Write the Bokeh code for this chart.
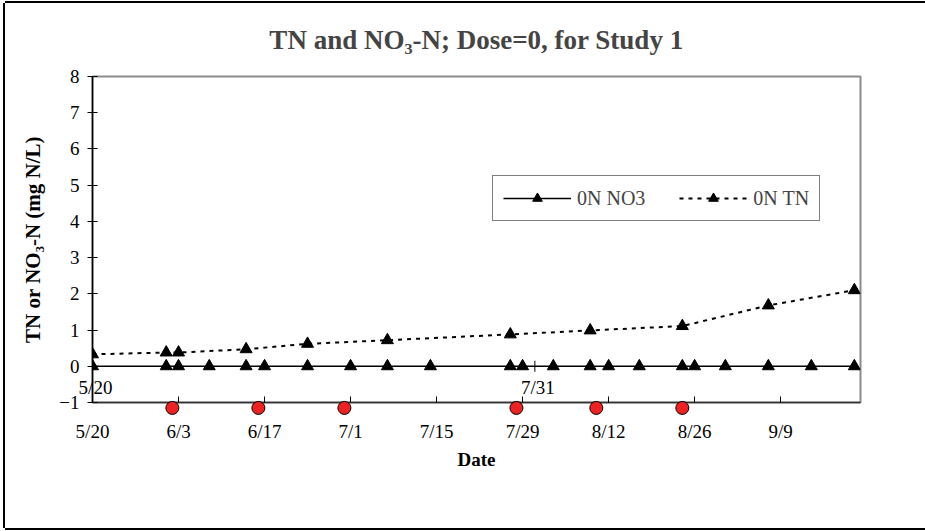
from datetime import datetime
import math
from bokeh.plotting import figure
from bokeh.models import FixedTicker, Legend, LegendItem, Range1d
from bokeh.core.properties import value
from bokeh.embed import file_html
from bokeh.resources import INLINE

YEAR = 2001

# ---- data ----
title_text = "TN and NO\u2083-N; Dose=0, for Study 1"
x_start = "5/20"
x_end = "9/22"
x_tick_labels = ["5/20", "6/3", "6/17", "7/1", "7/15", "7/29", "8/12", "8/26", "9/9"]
sec_tick_labels = ["5/20", "7/31"]
y_ticks = [-1, 0, 1, 2, 3, 4, 5, 6, 7, 8]

no3_dates = ["5/20", "6/1", "6/3", "6/8", "6/14", "6/17", "6/24", "7/1", "7/7", "7/14",
             "7/27", "7/29", "8/3", "8/9", "8/12", "8/17", "8/24", "8/26", "8/31", "9/7",
             "9/14", "9/21"]
no3_values = [0, 0, 0, 0, 0, 0, 0, 0, 0, 0, 0, 0, 0, 0, 0, 0, 0, 0, 0, 0, 0, 0]

tn_dates = ["5/20", "6/1", "6/3", "6/14", "6/24", "7/7", "7/27", "8/9", "8/24", "9/7", "9/21"]
tn_values = [0.33, 0.38, 0.38, 0.47, 0.62, 0.72, 0.88, 0.99, 1.11, 1.68, 2.10]

dose_dates = ["6/2", "6/16", "6/30", "7/28", "8/10", "8/24"]
dose_values = [-1.15, -1.15, -1.15, -1.15, -1.15, -1.15]

FONT = "Liberation Serif"


def d(s):
    m, dd = s.split("/")
    return datetime(YEAR, int(m), int(dd))


def ms(s):
    return (d(s) - datetime(1970, 1, 1)).total_seconds() * 1000.0


p = figure(width=920, height=525, x_axis_type="datetime",
           x_range=Range1d(d(x_start), d(x_end)), y_range=Range1d(-1, 8),
           output_backend="svg", toolbar_location=None,
           min_border_left=87, min_border_right=65, min_border_top=73, min_border_bottom=126,
           background_fill_color="white", border_fill_color="white",
           outline_line_color="#8c8c8c", outline_line_width=2)
p.styles = {"margin-left": "5px", "margin-top": "3px",
            "box-shadow": "-2px 0px 0px 0px black, 0px -2px 0px 0px black, 0px 2px 0px 0px black"}

p.xgrid.visible = False
p.ygrid.visible = False

# title
p.title.text = title_text
p.title.align = "center"
p.title.offset = -10
p.title.vertical_align = "top"
p.title.text_font = FONT
p.title.text_font_size = "27px"
p.title.text_font_style = "bold"
p.title.standoff = 40

# x axis
xa = p.xaxis[0]
xa.ticker = FixedTicker(ticks=[ms(t) for t in x_tick_labels])
xa.major_label_overrides = {ms(t): t for t in x_tick_labels}
xa.major_tick_in = 6
xa.major_tick_out = 0
xa.minor_tick_in = 0
xa.minor_tick_out = 0
xa.axis_line_color = "#333333"
xa.axis_line_width = 1.5
xa.major_tick_line_color = "black"
xa.major_label_text_font = FONT
xa.major_label_text_font_size = "19px"
xa.major_label_text_color = "black"
xa.major_label_standoff = 18
xa.axis_label = "Date"
xa.axis_label_text_font = FONT
xa.axis_label_text_font_size = "19px"
xa.axis_label_text_font_style = "bold"
xa.axis_label_text_color = "black"
xa.axis_label_standoff = 4

# y axis
ya = p.yaxis[0]
ya.ticker = FixedTicker(ticks=y_ticks)
ya.major_tick_in = 5
ya.major_tick_out = 5
ya.minor_tick_in = 0
ya.minor_tick_out = 0
ya.axis_line_color = "black"
ya.axis_line_width = 1.5
ya.major_tick_line_color = "black"
ya.major_label_text_font = FONT
ya.major_label_text_font_size = "19px"
ya.major_label_text_color = "black"
ya.major_label_standoff = 8
ya.axis_label = "TN or NO\u2083-N (mg N/L)"
ya.axis_label_text_font = FONT
ya.axis_label_text_font_size = "21px"
ya.axis_label_text_font_style = "bold"
ya.axis_label_text_color = "black"
ya.axis_label_standoff = 11

# series
no3_x = [d(s) for s in no3_dates]
tn_x = [d(s) for s in tn_dates]
dose_x = [d(s) for s in dose_dates]

l1 = p.line(no3_x, no3_values, line_color="black", line_width=1.5)
s1 = p.scatter(no3_x, no3_values, marker="triangle", size=12,
               fill_color="black", line_color="black")
l2 = p.line(tn_x, tn_values, line_color="black", line_width=2, line_dash="4 5")
s2 = p.scatter(tn_x, tn_values, marker="triangle", size=12,
               fill_color="black", line_color="black")

dose = p.scatter(dose_x, dose_values, marker="circle", size=13,
                 fill_color="#ee2222", line_color="black", line_width=1)
dose.level = "overlay"

# secondary date axis along y = 0
sec_x = [d(s) for s in sec_tick_labels]
sec_txt = p.text(x=sec_x, y=[0] * len(sec_x), text=sec_tick_labels,
                 text_font=value(FONT), text_font_size="19px", text_color="black",
                 text_align="center", text_baseline="top", x_offset=3, y_offset=11)
sec_txt.level = "overlay"
p.scatter(x=sec_x[1:], y=[0] * len(sec_x[1:]), marker="dash", angle=math.pi / 2,
          size=11, line_color="black", line_width=1)

legend = Legend(items=[LegendItem(label="0N NO3", renderers=[l1, s1]),
                       LegendItem(label="0N TN", renderers=[l2, s2])],
                orientation="horizontal", location=(400, 181),
                border_line_color="black", border_line_width=1.5,
                background_fill_color="white", background_fill_alpha=1,
                label_text_font=FONT, label_text_font_size="20px",
                glyph_width=68, glyph_height=24, label_standoff=6,
                spacing=34, padding=10, margin=0)
p.add_layout(legend)

open("out.html", "w").write(file_html(p, INLINE))
